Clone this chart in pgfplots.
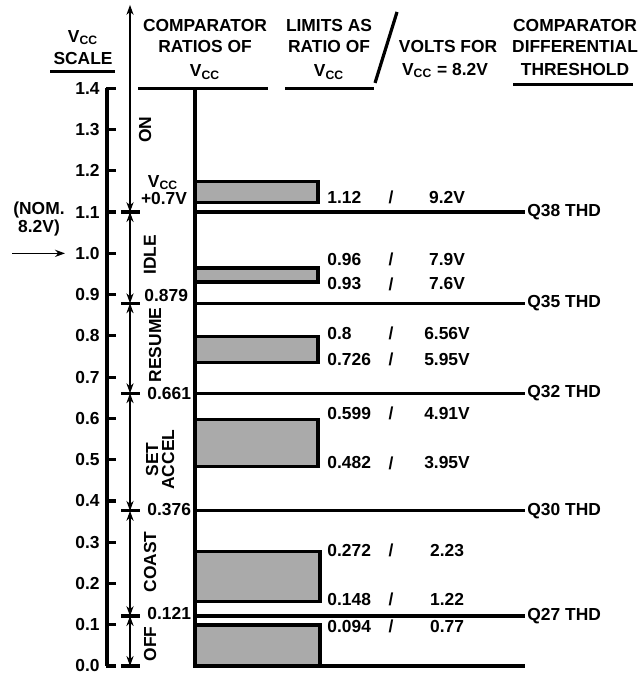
\documentclass[border=0pt]{standalone}
\usepackage{fontspec}
\setmainfont{Liberation Sans}
\usepackage{pgfplots}
\pgfplotsset{compat=1.18}
\usetikzlibrary{arrows.meta}
\definecolor{barfill}{RGB}{170,170,170}

\newcommand{\limrow}[3]{%
  \node[anchor=west] at (axis cs:327,#1) {#2};
  \node at (axis cs:391,#1) {/};
  \node at (axis cs:447,#1) {#3};
}

\begin{document}
\begin{tikzpicture}[font=\fontsize{8.7}{10.5}\selectfont\bfseries,
  every node/.append style={inner sep=0pt}]
\begin{axis}[
  x=0.5pt, y=206.3pt,
  xmin=0, xmax=640, ymin=-0.017, ymax=1.614,
  hide axis, clip=false,
  every axis plot/.append style={black, line width=1.6pt, mark=none},
  thd/.style={black, line width=1.6pt},
  seg/.style={line width=0.6pt,
    {Stealth[length=5pt,width=3.6pt]}-{Stealth[length=5pt,width=3.6pt]}},
]
% frame of the picture
\addplot[draw=none] coordinates {(0,-0.017) (640,1.614)};

% ---- V_CC scale
\addplot[line width=2pt] coordinates {(107,1.4) (107,0)};
\pgfplotsinvokeforeach{0.0,0.1,0.2,0.3,0.4,0.5,0.6,0.7,0.8,0.9,1.0,1.1,1.2,1.3,1.4}{
  \addplot[line width=1.6pt] coordinates {(106,#1) (116,#1)};
  \node[anchor=east] at (axis cs:100,#1) {#1};
}
\node[anchor=base] at (axis cs:83,1.512) {V\textsubscript{CC}};
\node[anchor=base] at (axis cs:83,1.457) {SCALE};
\addplot[line width=1.5pt] coordinates {(50,1.44) (115,1.44)};

% nominal
\node at (axis cs:39,1.105) {(NOM.};
\node at (axis cs:39,1.062) {8.2V)};
\addplot[line width=0.6pt, -{Stealth[length=5pt,width=3.6pt]}] coordinates {(12,1.0) (65,1.0)};

% ---- ranges
\addplot[seg] coordinates {(130,1.1) (130,1.602)};
\addplot[seg] coordinates {(130,0.879) (130,1.1)};
\addplot[seg] coordinates {(130,0.661) (130,0.879)};
\addplot[seg] coordinates {(130,0.376) (130,0.661)};
\addplot[seg] coordinates {(130,0.121) (130,0.376)};
\addplot[seg] coordinates {(130,0.0) (130,0.121)};
\pgfplotsinvokeforeach{1.1,0.879,0.661,0.376,0.121,0.0}{
  \addplot[line width=1.6pt] coordinates {(121,#1) (140,#1)};
}
\node[rotate=90] at (axis cs:145,1.30) {ON};
\node[rotate=90] at (axis cs:150,0.996) {IDLE};
\node[rotate=90] at (axis cs:155,0.778) {RESUME};
\node[rotate=90, align=center, font=\fontsize{8.7}{8}\selectfont\bfseries] at (axis cs:160,0.50) {SET\\ACCEL};
\node[rotate=90] at (axis cs:150,0.252) {COAST};
\node[rotate=90] at (axis cs:150,0.053) {OFF};

\node at (axis cs:163,1.171) {V\textsubscript{CC}};
\node at (axis cs:164,1.132) {+0.7V};
\node[anchor=west] at (axis cs:144,0.897) {0.879};
\node[anchor=west] at (axis cs:147,0.661) {0.661};
\node[anchor=west] at (axis cs:147,0.378) {0.376};
\node[anchor=west] at (axis cs:147,0.126) {0.121};

% ---- headers
\node[anchor=base] at (axis cs:205,1.537) {COMPARATOR};
\node[anchor=base] at (axis cs:205,1.486) {RATIOS OF};
\node[anchor=base] at (axis cs:205,1.428) {V\textsubscript{CC}};
\addplot[line width=1.5pt] coordinates {(138,1.4) (268,1.4)};

\node[anchor=base] at (axis cs:329,1.537) {LIMITS AS};
\node[anchor=base] at (axis cs:329,1.486) {RATIO OF};
\node[anchor=base] at (axis cs:329,1.428) {V\textsubscript{CC}};
\addplot[line width=1.5pt] coordinates {(285,1.4) (374,1.4)};
\addplot[line width=1.6pt] coordinates {(375,1.413) (397,1.585)};

\node[anchor=base] at (axis cs:448,1.486) {VOLTS FOR};
\node[anchor=base] at (axis cs:445,1.432) {V\textsubscript{CC} = 8.2V};

\node[anchor=base] at (axis cs:575,1.537) {COMPARATOR};
\node[anchor=base] at (axis cs:575,1.486) {DIFFERENTIAL};
\node[anchor=base] at (axis cs:575,1.432) {THRESHOLD};
\addplot[line width=1.5pt] coordinates {(513,1.408) (633,1.408)};

% ---- comparator ratio bars
\addplot[fill=barfill, line width=1.75pt] coordinates {(195,1.123) (318,1.123) (318,1.174) (195,1.174)} -- cycle;
\addplot[fill=barfill, line width=1.75pt] coordinates {(195,0.931) (318,0.931) (318,0.964) (195,0.964)} -- cycle;
\addplot[fill=barfill, line width=1.75pt] coordinates {(195,0.736) (318,0.736) (318,0.798) (195,0.798)} -- cycle;
\addplot[fill=barfill, line width=1.75pt] coordinates {(195,0.483) (318,0.483) (318,0.597) (195,0.597)} -- cycle;
\addplot[fill=barfill, line width=1.75pt] coordinates {(195,0.156) (320,0.156) (320,0.277) (195,0.277)} -- cycle;
\addplot[fill=barfill, line width=1.75pt] coordinates {(195,0.0) (320,0.0) (320,0.099) (195,0.099)} -- cycle;

% main vertical
\addplot[line width=2pt] coordinates {(195,1.4) (195,0)};

% ---- thresholds
\addplot[thd] coordinates {(195,1.1) (525,1.1)};
\addplot[thd] coordinates {(195,0.879) (525,0.879)};
\addplot[thd] coordinates {(195,0.661) (525,0.661)};
\addplot[thd] coordinates {(195,0.376) (525,0.376)};
\addplot[thd] coordinates {(195,0.121) (525,0.121)};
\addplot[thd] coordinates {(195,0.0) (525,0.0)};
\node[anchor=west] at (axis cs:527,1.1) {Q38 THD};
\node[anchor=west] at (axis cs:527,0.879) {Q35 THD};
\node[anchor=west] at (axis cs:527,0.661) {Q32 THD};
\node[anchor=west] at (axis cs:527,0.376) {Q30 THD};
\node[anchor=west] at (axis cs:527,0.121) {Q27 THD};

% ---- limits / volts
\limrow{1.135}{1.12}{9.2V}
\limrow{0.986}{0.96}{7.9V}
\limrow{0.926}{0.93}{7.6V}
\limrow{0.805}{0.8}{6.56V}
\limrow{0.742}{0.726}{5.95V}
\limrow{0.613}{0.599}{4.91V}
\limrow{0.492}{0.482}{3.95V}
\limrow{0.281}{0.272}{2.23}
\limrow{0.162}{0.148}{1.22}
\limrow{0.095}{0.094}{0.77}
\end{axis}
\end{tikzpicture}
\end{document}
